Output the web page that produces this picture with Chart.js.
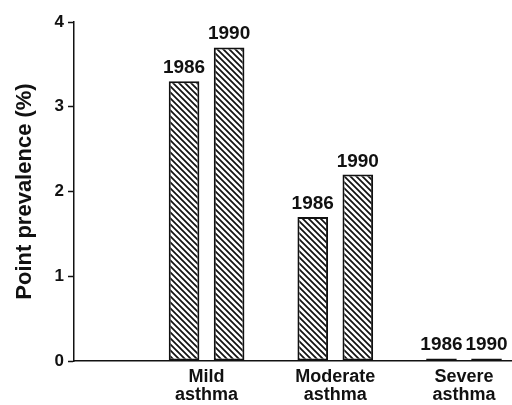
<!DOCTYPE html>
<html>
<head>
<meta charset="utf-8">
<script src="https://cdn.jsdelivr.net/npm/chart.js@4/dist/chart.umd.min.js"></script>
<style>
  body { margin: 0; background: #fff; }
</style>
</head>
<body>
<canvas id="chart" width="512" height="405"></canvas>
<script>
// categories & values
const categories = [['Mild', 'asthma'], ['Moderate', 'asthma'], ['Severe', 'asthma']];
const categoryPos = [1, 2, 3];
const years = ['1986', '1990'];
const values1986 = [3.3, 1.7, 0.03];
const values1990 = [3.7, 2.2, 0.03];
const yTicks = [0, 1, 2, 3, 4];

const ink = '#111';
const family = '"Liberation Sans", Arial, sans-serif';

// diagonal hatch fill
function hatch() {
    const s = 6;
    const c = document.createElement('canvas');
    c.width = s; c.height = s;
    const g = c.getContext('2d');
    g.fillStyle = '#fff';
    g.fillRect(0, 0, s, s);
    g.strokeStyle = ink;
    g.lineWidth = 1.7;
    g.beginPath();
    g.moveTo(-1, -1); g.lineTo(s + 1, s + 1);
    g.moveTo(-1, s - 1); g.lineTo(1, s + 1);
    g.moveTo(s - 1, -1); g.lineTo(s + 1, 1);
    g.stroke();
    return g.createPattern(c, 'repeat');
}

function toPoints(vals) {
    return vals.map((v, i) => ({ x: categoryPos[i], y: v }));
}

// year labels above each bar
const barLabels = {
    id: 'barLabels',
    afterDatasetsDraw(chart) {
        const ctx = chart.ctx;
        ctx.save();
        ctx.font = 'bold 19px ' + family;
        ctx.fillStyle = ink;
        ctx.textAlign = 'center';
        ctx.textBaseline = 'alphabetic';
        chart.data.datasets.forEach((ds, di) => {
            chart.getDatasetMeta(di).data.forEach(bar => {
                ctx.fillText(ds.label, bar.x, bar.y - 8);
            });
        });
        ctx.restore();
    }
};

const pattern = hatch();

new Chart(document.getElementById('chart'), {
    type: 'bar',
    data: {
        datasets: [
            { label: years[0], data: toPoints(values1986), backgroundColor: pattern, borderColor: ink, borderWidth: 2, borderSkipped: false },
            { label: years[1], data: toPoints(values1990), backgroundColor: pattern, borderColor: ink, borderWidth: 2, borderSkipped: false }
        ]
    },
    options: {
        responsive: false,
        animation: false,
        layout: { padding: { top: 22, left: 0, right: 0, bottom: 0 } },
        datasets: { bar: { categoryPercentage: 0.70, barPercentage: 0.68 } },
        plugins: { legend: { display: false }, tooltip: { enabled: false } },
        scales: {
            x: {
                type: 'linear',
                offset: false,
                min: -0.03,
                max: 3.373,
                afterBuildTicks: scale => { scale.ticks = categoryPos.map(v => ({ value: v })); },
                afterFit: scale => { scale.height = 44; },
                grid: { display: false, drawTicks: false, offset: false },
                border: { display: true, color: ink, width: 1.5 },
                ticks: {
                    color: ink,
                    padding: 7,
                    maxRotation: 0,
                    font: { family: family, size: 18, weight: 'bold', lineHeight: 1.0 },
                    callback: v => categories[categoryPos.indexOf(v)]
                }
            },
            y: {
                min: 0,
                max: 4,
                afterBuildTicks: scale => { scale.ticks = yTicks.map(v => ({ value: v })); },
                afterFit: scale => { scale.width = 74; },
                grid: { drawOnChartArea: false, drawTicks: true, tickLength: 6, tickColor: ink, tickWidth: 1.5 },
                border: { display: true, color: ink, width: 1.5 },
                ticks: {
                    color: ink,
                    padding: 4,
                    font: { family: family, size: 17, weight: 'bold' }
                },
                title: {
                    display: true,
                    text: 'Point prevalence (%)',
                    color: ink,
                    padding: { top: 14, bottom: 0 },
                    font: { family: family, size: 22, weight: 'bold', lineHeight: 1 }
                }
            }
        }
    },
    plugins: [barLabels]
});
</script>
</body>
</html>
